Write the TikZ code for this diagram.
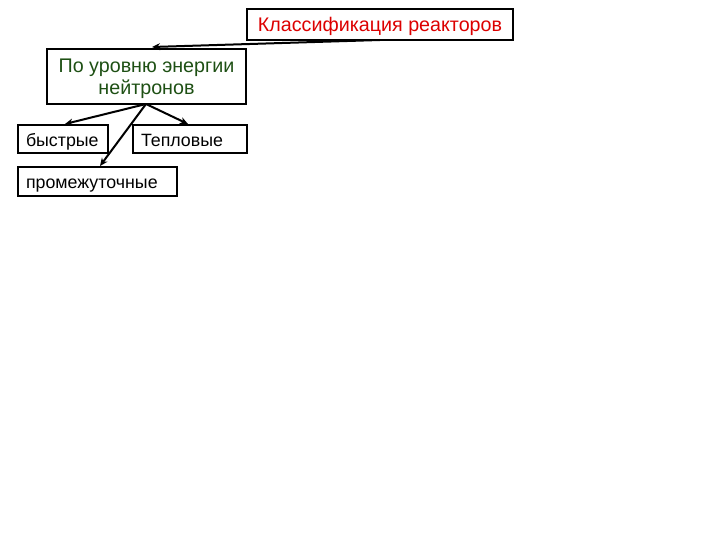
\documentclass[tikz,border=0pt]{standalone}
\usepackage{fontspec}
\setmainfont{Liberation Sans}
\usetikzlibrary{arrows.meta}
\definecolor{tred}{RGB}{220,0,0}
\definecolor{tgreen}{RGB}{30,80,20}
\begin{document}
\begin{tikzpicture}[x=1pt,y=-1pt,
  box/.style={draw,line width=2pt,inner sep=0pt,font=\fontsize{19.7}{21.6}\selectfont,text height=15pt,text depth=0pt},
  lbox/.style={box,align=left,inner xsep=8pt,font=\fontsize{17.8}{21}\selectfont},
  conn/.style={line width=2pt,-{Stealth[length=8pt,width=7pt]}}]
\useasboundingbox (0,0) rectangle (720,540);
\node[box,minimum width=266pt,minimum height=31pt,text=tred] (top) at (380,24.5) {Классификация реакторов};
\node[box,minimum width=199pt,minimum height=55pt,text=tgreen,text height=8pt,text depth=15.6pt] (lvl) at (146.5,76.5) {\begin{tabular}[t]{@{}c@{}}По уровню энергии\\нейтронов\end{tabular}};
\node[lbox,minimum width=90pt,minimum height=28pt,text width=74pt] (fast) at (63,139) {быстрые};
\node[lbox,minimum width=114pt,minimum height=28pt,text width=98pt] (therm) at (190,139) {Тепловые};
\node[lbox,minimum width=159pt,minimum height=29pt,text width=143pt] (mid) at (97.5,181.5) {промежуточные};
\coordinate (ts) at (380,40);
\coordinate (ls) at (146,104);
\draw[conn] (ts) -- (152,47);
\draw[conn] (ls) -- (65,124);
\draw[conn] (ls) -- (188,124);
\draw[conn] (ls) -- (100,166);
\end{tikzpicture}
\end{document}
